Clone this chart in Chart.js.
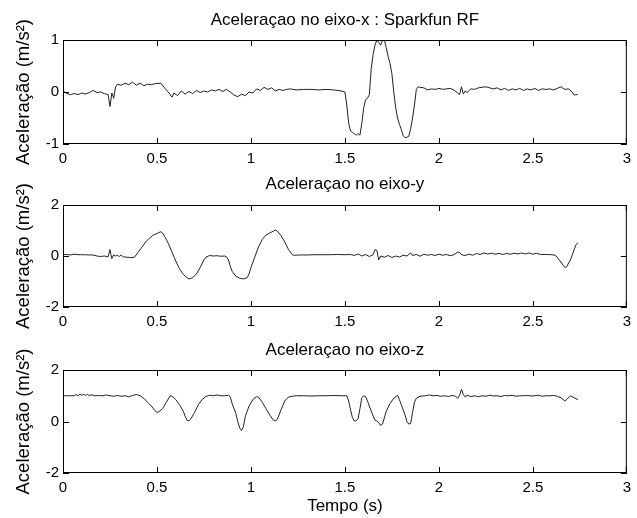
<!DOCTYPE html>
<html>
<head>
<meta charset="utf-8">
<title>Aceleração - Sparkfun RF</title>
<script src="https://cdn.jsdelivr.net/npm/chart.js"></script>
<style>
    body { margin: 0; background: #fff; }
    canvas { position: absolute; left: 0; }
</style>
</head>
<body>
<canvas id="graficoX" width="637" height="170" style="top:0px"></canvas>
<canvas id="graficoY" width="637" height="165" style="top:170px"></canvas>
<canvas id="graficoZ" width="637" height="183" style="top:335px"></canvas>
<script>
//dados (tempo em s, aceleracao em m/s2)
const tempoX = [
    0, 0.02, 0.04, 0.06, 0.08, 0.1, 0.12, 0.14, 0.16, 0.18,
    0.2, 0.22, 0.24, 0.25, 0.26, 0.27, 0.28, 0.29, 0.31, 0.33,
    0.35, 0.37, 0.39, 0.41, 0.43, 0.45, 0.47, 0.49, 0.52, 0.54,
    0.56, 0.58, 0.59, 0.61, 0.63, 0.65, 0.67, 0.69, 0.71, 0.73,
    0.75, 0.77, 0.79, 0.81, 0.83, 0.85, 0.87, 0.89, 0.91, 0.93,
    0.95, 0.97, 0.99, 1.01, 1.03, 1.05, 1.07, 1.09, 1.11, 1.13,
    1.15, 1.17, 1.19, 1.21, 1.24, 1.28, 1.32, 1.36, 1.4, 1.44,
    1.48, 1.5, 1.51, 1.52, 1.53, 1.54, 1.55, 1.56, 1.57, 1.58,
    1.59, 1.6, 1.61, 1.62, 1.63, 1.64, 1.65, 1.66, 1.67, 1.68,
    1.69, 1.7, 1.71, 1.72, 1.73, 1.74, 1.75, 1.76, 1.77, 1.78,
    1.79, 1.8, 1.81, 1.82, 1.83, 1.84, 1.85, 1.86, 1.87, 1.88,
    1.89, 1.9, 1.92, 1.94, 1.96, 1.98, 2.0, 2.02, 2.04, 2.06,
    2.08, 2.1, 2.11, 2.12, 2.13, 2.14, 2.15, 2.17, 2.19, 2.21,
    2.23, 2.25, 2.27, 2.29, 2.31, 2.33, 2.35, 2.37, 2.39, 2.41,
    2.43, 2.45, 2.47, 2.49, 2.51, 2.53, 2.55, 2.57, 2.59, 2.61,
    2.63, 2.65, 2.67, 2.69, 2.71, 2.72, 2.73, 2.74
];
const acelX = [
    0.02, -0.03, -0.05, -0.03, -0.05, -0.02, -0.04, -0.01, 0.03, -0.01,
    0, -0.03, -0.05, -0.28, -0.02, -0.12, 0.1, 0.15, 0.13, 0.17,
    0.14, 0.19, 0.13, 0.17, 0.12, 0.15, 0.14, 0.16, 0.17, 0.08,
    0, -0.1, -0.02, -0.07, 0.02, -0.04, 0.01, -0.03, 0.03, -0.01,
    0.02, 0, 0.04, 0.02, 0.05, 0.01, 0.05, 0, -0.06, -0.09,
    -0.04, -0.07, 0, -0.02, 0.06, 0.03, 0.09, 0.05, 0.08, 0.02,
    0.05, 0.03, 0.05, 0.06, 0.04, 0.05, 0.05, 0.04, 0.05, 0.04,
    0.02, 0, -0.25, -0.6, -0.75, -0.78, -0.8, -0.83, -0.8, -0.83,
    -0.6, -0.3, -0.15, -0.12, -0.05, 0.45, 0.72, 0.9, 1.0, 0.95,
    0.9, 1.0, 1.0, 0.85, 0.68, 0.55, 0.35, 0, -0.3, -0.5,
    -0.62, -0.72, -0.84, -0.88, -0.87, -0.85, -0.7, -0.5, -0.25, 0.05,
    0.1, 0.09, 0.08, 0.04, 0.06, 0.05, 0.07, 0.05, 0.06, 0.07,
    0.04, -0.02, -0.05, 0.1, -0.04, 0.02, -0.01, 0.06, 0.05, 0.08,
    0.09, 0.1, 0.08, 0.06, 0.08, 0.04, 0.07, 0.03, 0.06, 0.04,
    0.07, 0.03, 0.06, 0.04, 0.07, 0.03, 0.06, 0.05, 0.06, 0.04,
    0.07, 0.1, 0.05, 0.06, 0, -0.06, -0.05, -0.05
];

const tempoY = [
    0, 0.02, 0.04, 0.06, 0.08, 0.1, 0.12, 0.14, 0.16, 0.18,
    0.2, 0.22, 0.24, 0.25, 0.255, 0.26, 0.27, 0.28, 0.29, 0.3,
    0.31, 0.32, 0.34, 0.36, 0.38, 0.4, 0.42, 0.44, 0.46, 0.48,
    0.5, 0.51, 0.52, 0.53, 0.54, 0.56, 0.58, 0.6, 0.62, 0.64,
    0.66, 0.67, 0.69, 0.71, 0.73, 0.75, 0.76, 0.78, 0.8, 0.82,
    0.84, 0.86, 0.87, 0.88, 0.89, 0.9, 0.92, 0.94, 0.96, 0.98,
    0.99, 1.0, 1.02, 1.04, 1.06, 1.08, 1.1, 1.12, 1.13, 1.14,
    1.16, 1.18, 1.2, 1.22, 1.23, 1.26, 1.3, 1.34, 1.38, 1.42,
    1.46, 1.5, 1.53, 1.55, 1.57, 1.59, 1.61, 1.63, 1.65, 1.66,
    1.67, 1.68, 1.69, 1.71, 1.73, 1.75, 1.77, 1.79, 1.81, 1.83,
    1.85, 1.86, 1.88, 1.9, 1.92, 1.94, 1.96, 1.98, 2.0, 2.02,
    2.04, 2.06, 2.08, 2.1, 2.11, 2.12, 2.14, 2.16, 2.18, 2.2,
    2.22, 2.24, 2.26, 2.28, 2.3, 2.32, 2.34, 2.36, 2.38, 2.4,
    2.42, 2.44, 2.46, 2.48, 2.5, 2.52, 2.54, 2.56, 2.58, 2.6,
    2.62, 2.64, 2.66, 2.67, 2.68, 2.7, 2.71, 2.72, 2.73, 2.74
];
const acelY = [
    0.05, 0.06, 0.04, 0.07, 0.05, 0.05, 0.05, 0.04, 0.04, 0,
    -0.02, 0, -0.03, 0.25, 0.05, -0.1, 0.05, 0, 0.03, -0.02,
    0.04, -0.03, -0.05, -0.06, -0.05, 0.15, 0.35, 0.55, 0.7, 0.82,
    0.88, 0.92, 0.95, 0.9, 0.78, 0.5, 0.15, -0.2, -0.5, -0.72,
    -0.85, -0.9, -0.85, -0.7, -0.45, -0.15, -0.05, 0.02, 0, 0.01,
    -0.01, 0, -0.03, -0.15, -0.4, -0.6, -0.8, -0.87, -0.9, -0.85,
    -0.7, -0.45, -0.05, 0.35, 0.65, 0.82, 0.9, 0.98, 1.02, 0.98,
    0.8, 0.55, 0.25, 0.05, 0.03, 0.04, 0.04, 0.05, 0.05, 0.05,
    0.06, 0.05, 0.06, 0.02, 0.08, 0, 0.06, -0.02, 0.05, 0.25,
    0.22, -0.15, 0, -0.05, 0.02, -0.06, 0, -0.04, 0.03, 0,
    0.12, 0.02, 0.06, -0.01, 0.07, 0.03, 0.06, 0.02, 0.07, 0.03,
    0.06, 0.01, 0.05, 0.15, 0.14, 0.05, 0.02, 0.07, 0.03, 0.1,
    0.06, 0.12, 0.08, 0.11, 0.07, 0.1, 0.06, 0.1, 0.07, 0.11,
    0.08, 0.12, 0.08, 0.12, 0.07, 0.11, 0.06, 0.06, 0.06, 0.05,
    0.03, -0.15, -0.35, -0.45, -0.42, -0.15, 0.05, 0.25, 0.45, 0.52
];

const tempoZ = [
    0, 0.02, 0.04, 0.06, 0.07, 0.08, 0.09, 0.1, 0.11, 0.12,
    0.13, 0.14, 0.15, 0.17, 0.19, 0.21, 0.23, 0.25, 0.27, 0.29,
    0.31, 0.33, 0.35, 0.37, 0.39, 0.41, 0.43, 0.45, 0.47, 0.49,
    0.5, 0.51, 0.53, 0.55, 0.57, 0.58, 0.6, 0.62, 0.64, 0.65,
    0.66, 0.67, 0.68, 0.7, 0.72, 0.74, 0.76, 0.78, 0.8, 0.82,
    0.84, 0.86, 0.88, 0.89, 0.9, 0.92, 0.93, 0.94, 0.95, 0.96,
    0.97, 0.99, 1.01, 1.03, 1.04, 1.06, 1.08, 1.1, 1.12, 1.13,
    1.14, 1.16, 1.18, 1.2, 1.22, 1.24, 1.28, 1.32, 1.36, 1.4,
    1.44, 1.48, 1.51, 1.52, 1.53, 1.54, 1.55, 1.56, 1.57, 1.58,
    1.59, 1.6, 1.61, 1.62, 1.64, 1.66, 1.67, 1.68, 1.69, 1.7,
    1.72, 1.74, 1.76, 1.78, 1.79, 1.8, 1.81, 1.82, 1.83, 1.84,
    1.85, 1.86, 1.87, 1.88, 1.9, 1.93, 1.95, 1.97, 1.99, 2.01,
    2.03, 2.05, 2.07, 2.09, 2.1, 2.11, 2.12, 2.13, 2.14, 2.15,
    2.17, 2.19, 2.21, 2.23, 2.25, 2.27, 2.29, 2.31, 2.33, 2.35,
    2.37, 2.39, 2.41, 2.43, 2.45, 2.47, 2.49, 2.51, 2.53, 2.55,
    2.57, 2.59, 2.61, 2.63, 2.65, 2.67, 2.68, 2.7, 2.72, 2.74
];
const acelZ = [
    1.0, 1.0, 1.0, 1.0, 1.05, 1.0, 1.06, 1.02, 1.05, 1.01,
    1.06, 1.0, 1.04, 1.0, 1.01, 1.0, 1.03, 1.0, 0.98, 1.01,
    0.98, 1.0, 0.96, 1.01, 1.05, 1.0, 0.9, 0.75, 0.6, 0.42,
    0.35, 0.38, 0.5, 0.75, 1.0, 0.98, 0.85, 0.65, 0.4, 0.2,
    0.05, 0.03, 0.1, 0.35, 0.65, 0.85, 0.97, 1.02, 1.0, 1.03,
    1.0, 1.0, 1.02, 0.95, 0.7, 0.3, 0, -0.25, -0.35, -0.2,
    0.2, 0.6, 0.85, 0.97, 0.95, 0.75, 0.5, 0.25, 0.05, 0.03,
    0.08, 0.45, 0.8, 0.95, 0.98, 1.0, 1.0, 0.99, 1.0, 1.0,
    1.01, 1.0, 1.0, 0.8, 0.45, 0.15, 0.02, 0.03, 0.1, 0.5,
    0.92, 1.0, 0.97, 0.8, 0.4, 0.05, 0.02, -0.05, -0.15, -0.1,
    0.4, 0.7, 0.9, 1.02, 0.85, 0.65, 0.45, 0.25, 0, -0.1,
    -0.08, 0.35, 0.75, 0.9, 0.98, 1.0, 1.03, 1.0, 1.01, 0.98,
    1.0, 0.97, 1.01, 0.98, 0.9, 1.02, 1.25, 1.05, 0.95, 1.02,
    0.97, 1.0, 0.96, 1.0, 0.98, 1.02, 0.99, 1.0, 0.97, 1.01,
    1.0, 1.02, 0.98, 1.0, 1.0, 1.01, 0.99, 1.0, 1.02, 0.98,
    1.0, 1.0, 1.01, 0.98, 0.92, 0.8, 0.85, 1.0, 0.92, 0.85
];

const ticksTempo = [0, 0.5, 1, 1.5, 2, 2.5, 3];
const ticksX = [-1, 0, 1];
const ticksYZ = [-2, 0, 2];

const fonte = "'Liberation Sans', Arial, Helvetica, sans-serif";

//moldura fechada com ticks pra dentro (estilo matlab)
const moldura = {
    id: 'moldura',
    afterDraw(chart) {
        const { ctx, chartArea: a, scales: { x, y } } = chart;
        ctx.save();
        ctx.strokeStyle = '#000';
        ctx.lineWidth = 1;
        ctx.strokeRect(a.left + 0.5, a.top + 0.5, a.right - a.left - 1, a.bottom - a.top - 1);
        ctx.beginPath();
        x.ticks.forEach(t => {
            const px = Math.min(Math.round(x.getPixelForValue(t.value)), a.right - 1) + 0.5;
            ctx.moveTo(px, a.bottom);
            ctx.lineTo(px, a.bottom - 6);
            ctx.moveTo(px, a.top);
            ctx.lineTo(px, a.top + 6);
        });
        y.ticks.forEach(t => {
            const py = Math.round(y.getPixelForValue(t.value)) + 0.5;
            ctx.moveTo(a.left, py);
            ctx.lineTo(a.left + 6, py);
            ctx.moveTo(a.right, py);
            ctx.lineTo(a.right - 6, py);
        });
        ctx.stroke();
        ctx.restore();
    }
};

function grafico(id, titulo, tempo, valores, yTicks, cfg) {
    const ctx = document.getElementById(id);
    return new Chart(ctx, {
        type: 'line',
        data: {
            datasets: [{
                data: tempo.map((t, i) => ({ x: t, y: valores[i] })),
                borderColor: '#222',
                borderWidth: 1,
                pointRadius: 0,
                tension: 0
            }]
        },
        options: {
            responsive: false,
            animation: false,
            layout: { padding: { left: 0, right: 5, top: 0, bottom: 0 } },
            plugins: {
                legend: { display: false },
                tooltip: { enabled: false },
                title: {
                    display: true,
                    text: titulo,
                    fullSize: false,
                    color: '#000',
                    font: { family: fonte, size: 17, weight: 'normal', lineHeight: 1.2 },
                    padding: cfg.tituloPad
                }
            },
            scales: {
                x: {
                    type: 'linear',
                    min: ticksTempo[0],
                    max: ticksTempo[ticksTempo.length - 1],
                    afterFit: s => { s.height = cfg.alturaX; },
                    afterBuildTicks: s => { s.ticks = ticksTempo.map(v => ({ value: v })); },
                    grid: { display: false, drawTicks: false },
                    border: { display: false },
                    ticks: {
                        color: '#000',
                        padding: 6,
                        maxRotation: 0,
                        autoSkip: false,
                        callback: v => String(v),
                        font: { family: fonte, size: 15 }
                    },
                    title: {
                        display: !!cfg.tituloX,
                        text: cfg.tituloX || '',
                        color: '#000',
                        font: { family: fonte, size: 17, lineHeight: 1.2 },
                        padding: { top: 0, bottom: 1 }
                    }
                },
                y: {
                    min: yTicks[0],
                    max: yTicks[yTicks.length - 1],
                    afterFit: s => { s.width = 63; },
                    afterBuildTicks: s => { s.ticks = yTicks.map(v => ({ value: v })); },
                    grid: { display: false, drawTicks: false },
                    border: { display: false },
                    ticks: {
                        color: '#000',
                        padding: 4,
                        callback: v => String(v),
                        font: { family: fonte, size: 15 }
                    },
                    title: {
                        display: true,
                        text: 'Aceleração (m/s²)',
                        color: '#000',
                        font: { family: fonte, size: 18.5, lineHeight: 1.2 },
                        padding: { top: 13, bottom: 0 }
                    }
                }
            }
        },
        plugins: [moldura]
    });
}

grafico('graficoX', 'Aceleraçao no eixo-x : Sparkfun RF', tempoX, acelX, ticksX,
    { tituloPad: { top: 10, bottom: 9.6 }, alturaX: 26 });
grafico('graficoY', 'Aceleraçao no eixo-y', tempoY, acelY, ticksYZ,
    { tituloPad: { top: 4, bottom: 10.6 }, alturaX: 28 });
grafico('graficoZ', 'Aceleraçao no eixo-z', tempoZ, acelZ, ticksYZ,
    { tituloPad: { top: 5, bottom: 9.6 }, alturaX: 45, tituloX: 'Tempo (s)' });
</script>
</body>
</html>
